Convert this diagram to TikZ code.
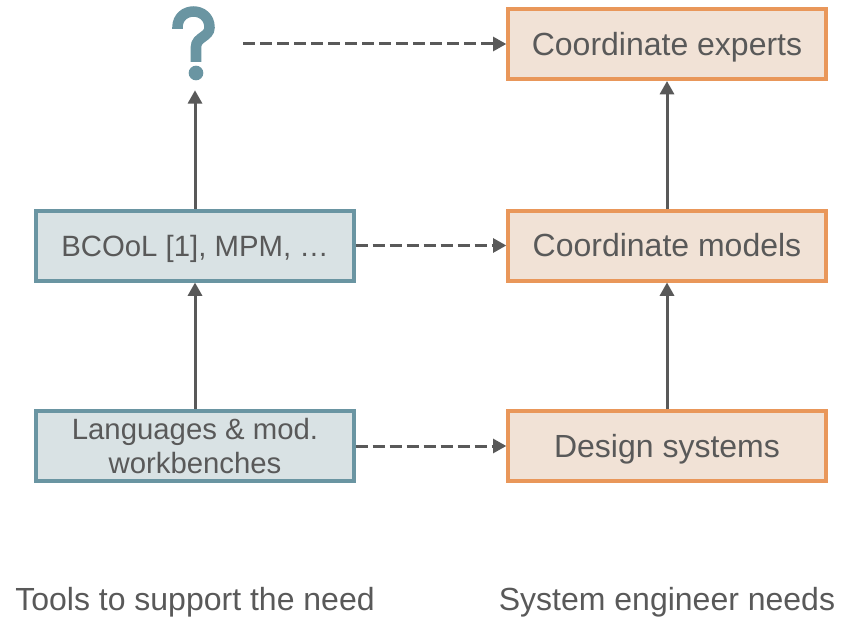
\documentclass[tikz,border=0pt]{standalone}
\usepackage{fontspec}
\setmainfont{Liberation Sans}
\usetikzlibrary{arrows.meta}

\definecolor{toolline}{HTML}{6A95A2}
\definecolor{toolfill}{HTML}{D9E2E4}
\definecolor{needline}{HTML}{E9975A}
\definecolor{needfill}{HTML}{F1E2D6}
\definecolor{txtgray}{HTML}{595959}

\tikzset{
  tool/.style={draw=toolline, fill=toolfill, line width=3pt, minimum width=238pt,
    minimum height=52.5pt, inner sep=0pt, text=txtgray, align=center,
    font=\fontsize{22}{25.5}\selectfont},
  oneline/.style={text height=15.8pt, text depth=0pt},
  need/.style={draw=needline, fill=needfill, line width=3pt, minimum width=238pt,
    minimum height=52.5pt, inner sep=0pt, text=txtgray, text height=17pt, text depth=0pt,
    font=\fontsize{24}{28}\selectfont},
  up/.style={-{Triangle[length=10pt,width=10.5pt]}, line width=2.25pt, draw=txtgray},
  link/.style={up, dash pattern=on 9pt off 3.75pt}
}

\begin{document}
\begin{tikzpicture}[x=0.75pt, y=-0.75pt]
\useasboundingbox (0,0) rectangle (850,617);

% needs
\node[need](expert) at (667,44) {Coordinate experts};
\node[need](models) at (667,245.5) {Coordinate models};
\node[need](design) at (667,446) {Design systems};

% tools
\node[inner sep=0pt, minimum width=72pt, minimum height=69pt](q) at (195,44) {};
\draw[toolline, line width=7.9pt] (177.5,29) -- (177.5,27.5)
  .. controls (177.5,6.2) and (209.5,6.2) .. (209.5,27.5)
  .. controls (209.5,37) and (196,37) .. (196,47) -- (196,62);
\fill[toolline] (196,73) circle (5.5pt);
\node[tool, oneline](bcool) at (195,245.5) {BCOoL [1], MPM, \dots};
\node[tool](lang) at (195,446) {Languages \& mod.\\workbenches};

\draw[up] (design) -- (models);
\draw[up] (models) -- (expert);
\draw[up] (lang) -- (bcool);
\draw[up] (bcool) -- (q);

\draw[link] (q) -- (expert);
\draw[link] (bcool) -- (models);
\draw[link] (lang) -- (design);

\node[text=txtgray, font=\fontsize{24}{28}\selectfont](tools) at (195,602) {Tools to support the need};
\node[text=txtgray, font=\fontsize{24}{28}\selectfont](needs) at (667,602) {System engineer needs};

\end{tikzpicture}
\end{document}
